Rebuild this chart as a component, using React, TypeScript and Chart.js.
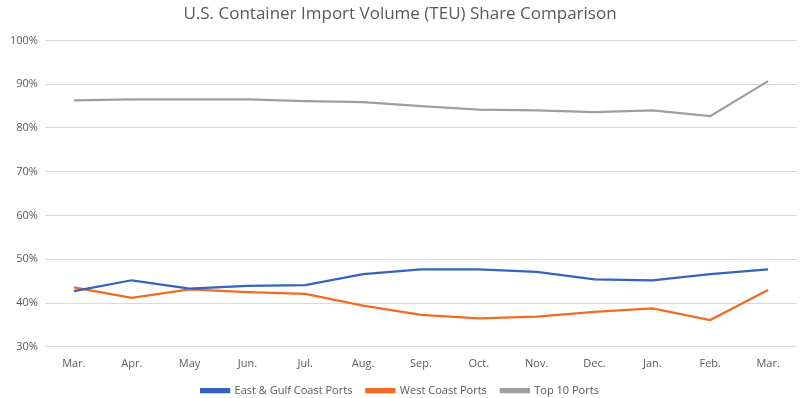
import React, { useEffect, useRef } from "react";
import { Chart, registerables } from "chart.js";

Chart.register(...registerables);

const categories = ["Mar.", "Apr.", "May", "Jun.", "Jul.", "Aug.", "Sep.", "Oct.", "Nov.", "Dec.", "Jan.", "Feb.", "Mar."];
const eastGulf = [42.7, 45.2, 43.3, 43.9, 44.1, 46.6, 47.7, 47.7, 47.1, 45.4, 45.2, 46.6, 47.7];
const westCoast = [43.6, 41.2, 43.1, 42.5, 42.1, 39.4, 37.3, 36.5, 36.9, 38.0, 38.8, 36.1, 43.0];
const top10 = [86.3, 86.5, 86.5, 86.5, 86.1, 85.9, 85.0, 84.2, 84.0, 83.6, 84.0, 82.7, 90.7];

const FONT = "'Open Sans', 'Liberation Sans', sans-serif";

export default function App() {
  const ref = useRef<HTMLCanvasElement | null>(null);
  useEffect(() => {
    if (!ref.current) return;
    const mk = (label: string, data: number[], color: string) => ({
      label,
      data,
      borderColor: color,
      backgroundColor: color,
      borderWidth: 2.25,
      pointRadius: 0,
      pointHoverRadius: 0,
      tension: 0,
      fill: false,
    });
    const chart = new Chart(ref.current, {
      type: "line",
      data: {
        labels: categories,
        datasets: [
          mk("East & Gulf Coast Ports", eastGulf, "#3462BE"),
          mk("West Coast Ports", westCoast, "#F26B25"),
          mk("Top 10 Ports", top10, "#9E9E9E"),
        ],
      },
      options: {
        animation: false,
        responsive: false,
        maintainAspectRatio: false,
        layout: { padding: { left: 3, right: 3, top: 4, bottom: -8 } },
        plugins: {
          title: {
            display: true,
            text: "U.S. Container Import Volume (TEU) Share Comparison",
            color: "#595959",
            font: { family: FONT, size: 17, weight: "normal" },
            padding: { top: 0, bottom: 16 },
          },
          legend: {
            position: "bottom",
            labels: {
              color: "#595959",
              font: { family: FONT, size: 11 },
              boxWidth: 28,
              boxHeight: 3,
              padding: 14,
            },
          },
          tooltip: { enabled: false },
        },
        scales: {
          x: {
            offset: true,
            grid: { display: false, drawTicks: false },
            border: { display: false },
            ticks: { color: "#595959", font: { family: FONT, size: 11 }, padding: 10, maxRotation: 0 },
            afterFit: (scale: any) => {
              scale.height = scale.height - 9;
            },
          },
          y: {
            min: 30,
            max: 100,
            grid: { color: "#D9D9D9", lineWidth: 1, drawTicks: false },
            border: { display: false },
            ticks: {
              stepSize: 10,
              color: "#595959",
              font: { family: FONT, size: 11 },
              padding: 7,
              callback: (v: any) => v + "%",
            },
          },
        },
      },
    });
    return () => chart.destroy();
  }, []);
  return (
    <div style={{ position: "fixed", left: 0, top: 0, width: 800, height: 398, background: "#fff" }}>
      <canvas ref={ref} width={800} height={398} />
    </div>
  );
}
